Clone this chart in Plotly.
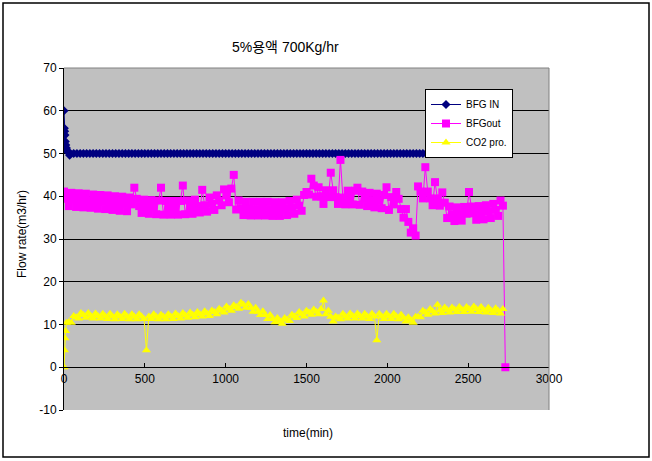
import plotly.graph_objects as go

# ---------------- data ----------------
x_ticks = [0, 500, 1000, 1500, 2000, 2500, 3000]
y_ticks = [-10, 0, 10, 20, 30, 40, 50, 60, 70]
grid_vals = [10, 20, 30, 40, 50, 60]

bfg_in_time = [0, 2, 4, 6, 8, 11, 15, 20, 28, 35] + list(range(40, 2741, 20))
bfg_in = [60.0, 55.9, 55.2, 54.3, 52.8, 52.0, 51.3, 50.6, 50.2, 49.6,
          50.0, 50.0, 50.0, 50.0, 50.0, 50.0, 50.0, 50.0, 50.0, 50.0,
          50.0, 50.0, 50.0, 50.0, 50.0, 50.0, 50.0, 50.0, 50.0, 50.0,
          50.0, 50.0, 50.0, 50.0, 50.0, 50.0, 50.0, 50.0, 50.0, 50.0,
          50.0, 50.0, 50.0, 50.0, 50.0, 50.0, 50.0, 50.0, 50.0, 50.0,
          50.0, 50.0, 50.0, 50.0, 50.0, 50.0, 50.0, 50.0, 50.0, 50.0,
          50.0, 50.0, 50.0, 50.0, 50.0, 50.0, 50.0, 50.0, 50.0, 50.0,
          50.0, 50.0, 50.0, 50.0, 50.0, 50.0, 50.0, 50.0, 50.0, 50.0,
          50.0, 50.0, 50.0, 50.0, 50.0, 50.0, 50.0, 50.0, 50.0, 50.0,
          50.0, 50.0, 50.0, 50.0, 50.0, 50.0, 50.0, 50.0, 50.0, 50.0,
          50.0, 50.0, 50.0, 50.0, 50.0, 50.0, 50.0, 50.0, 50.0, 50.0,
          50.0, 50.0, 50.0, 50.0, 50.0, 50.0, 50.0, 50.0, 50.0, 50.0,
          50.0, 50.0, 50.0, 50.0, 50.0, 50.0, 50.0, 50.0, 50.0, 50.0,
          50.0, 50.0, 50.0, 50.0, 50.0, 50.0, 50.0, 50.0, 50.0, 50.0,
          50.0, 50.0, 50.0, 50.0, 50.0, 50.0]

bfg_out_time = list(range(0, 2730, 15)) + [2730]
bfg_out = [41.1, 39.4, 37.7, 40.8, 39.2, 37.5, 40.7, 39.0, 37.4, 40.6,
           38.9, 37.3, 40.4, 38.8, 37.1, 40.3, 38.7, 37.0, 40.2, 38.5,
           36.8, 40.0, 38.3, 36.6, 39.9, 38.2, 36.5, 39.7, 38.1, 42.0,
           39.4, 37.7, 36.1, 39.2, 37.6, 35.9, 39.1, 37.4, 35.8, 39.0,
           42.0, 35.7, 38.9, 37.3, 35.7, 38.9, 37.3, 35.7, 38.9, 42.5,
           35.8, 39.0, 37.5, 35.9, 39.2, 37.7, 36.2, 41.5, 37.9, 36.4,
           39.7, 38.2, 36.8, 40.2, 39.0, 37.9, 41.6, 40.2, 38.6, 41.8,
           45.0, 36.9, 39.0, 37.2, 35.6, 38.7, 37.1, 35.5, 38.7, 37.0,
           35.5, 38.7, 37.1, 35.5, 38.7, 37.0, 35.4, 38.6, 37.0, 35.4,
           38.6, 37.1, 35.6, 38.9, 37.4, 35.9, 39.2, 37.8, 36.6, 40.3,
           41.0, 40.4, 44.1, 42.5, 39.9, 42.1, 40.0, 38.2, 41.4, 39.8,
           45.5, 41.4, 39.8, 38.2, 48.5, 39.7, 38.1, 41.3, 39.7, 38.1,
           41.3, 42.0, 38.0, 41.1, 39.4, 37.7, 40.8, 39.1, 37.4, 40.6,
           38.9, 37.2, 40.3, 42.1, 36.8, 39.8, 38.1, 41.0, 39.4, 37.0,
           35.0, 37.0, 34.0, 31.5, 32.5, 30.8, 42.3, 41.1, 39.5, 46.8,
           41.1, 39.5, 37.9, 43.3, 39.5, 37.8, 40.9, 38.5, 34.9, 37.6,
           35.8, 34.2, 37.4, 35.8, 34.3, 37.5, 35.9, 41.0, 37.6, 36.0,
           34.5, 37.7, 36.2, 34.6, 37.9, 36.4, 34.9, 38.2, 36.8, 35.4,
           39.0, 37.8,
           0.0]

co2_time = [0, 3, 6, 10] + list(range(15, 2730, 15))
co2 = [0.0, 4.0, 6.8, 8.5,
       10.4, 10.6, 10.4, 12.0, 11.7, 11.4, 12.7, 12.2, 11.6, 12.7,
       12.0, 11.4, 12.6, 12.0, 11.4, 12.5, 11.9, 11.3, 12.5, 11.9,
       11.2, 12.4, 11.9, 11.3, 12.5, 11.8, 11.2, 12.4, 11.8, 11.2,
       12.4, 11.9, 11.3, 4.0, 11.9, 11.3, 12.4, 11.8, 11.2, 12.3,
       11.8, 11.2, 12.4, 11.9, 11.3, 12.6, 12.0, 11.4, 12.7, 12.1,
       11.6, 12.8, 12.3, 11.7, 12.9, 12.4, 11.9, 13.1, 12.6, 12.0,
       13.3, 12.9, 12.4, 13.7, 13.2, 12.8, 14.2, 13.7, 13.2, 14.5,
       14.1, 13.7, 15.1, 14.6, 13.9, 14.8, 13.9, 13.0, 13.9, 13.0,
       12.2, 13.1, 12.2, 11.3, 12.2, 11.3, 10.5, 11.5, 10.8, 10.2,
       11.5, 11.1, 10.8, 12.3, 11.9, 11.5, 12.9, 12.4, 11.9, 13.2,
       12.8, 12.3, 13.5, 13.0, 12.4, 13.6, 15.6, 12.4, 13.2, 11.8,
       10.7, 11.9, 11.6, 11.2, 12.5, 11.9, 11.4, 12.6, 12.0, 11.4,
       12.6, 12.0, 11.4, 12.5, 11.9, 11.3, 12.5, 11.9, 6.3, 12.5,
       11.9, 11.3, 12.5, 11.9, 11.3, 12.5, 11.9, 11.2, 12.3, 11.6,
       10.7, 11.7, 11.0, 10.4, 11.8, 11.8, 11.7, 13.2, 12.8, 12.3,
       13.6, 13.1, 12.6, 14.6, 13.3, 12.7, 14.0, 13.4, 12.8, 14.0,
       13.5, 12.9, 14.1, 13.5, 12.9, 14.1, 13.6, 13.0, 14.2, 13.6,
       12.9, 14.1, 13.4, 12.8, 13.9, 13.3, 12.7, 13.8, 13.2, 12.6,
       13.6]

# ---------------- layout geometry ----------------
W, H = 652, 461
L, R, T, B = 64, 103, 68, 51
PW, PH = W - L - R, H - T - B

FONT = "Liberation Sans, Arial, Noto Sans CJK KR, sans-serif"


def px(xpix):
    return (xpix - L) / PW


def py(ypix):
    return (H - B - ypix) / PH


fig = go.Figure()
fig.add_trace(go.Scatter(
    x=bfg_in_time, y=bfg_in, mode="lines+markers", name="BFG IN",
    line=dict(color="#000080", width=1),
    marker=dict(symbol="diamond", size=7, color="#000080")))
fig.add_trace(go.Scatter(
    x=bfg_out_time, y=bfg_out, mode="lines+markers", name="BFGout",
    line=dict(color="#FF00FF", width=1),
    marker=dict(symbol="square", size=8, color="#FF00FF")))
fig.add_trace(go.Scatter(
    x=co2_time, y=co2, mode="lines+markers", name="CO2 pro.",
    line=dict(color="#FFFF00", width=1),
    marker=dict(symbol="triangle-up", size=8, color="#FFFF00")))

fig.update_layout(
    width=W, height=H,
    margin=dict(l=L, r=R, t=T, b=B, pad=0),
    paper_bgcolor="white", plot_bgcolor="#C0C0C0",
    font=dict(family=FONT, size=12, color="black"),
    showlegend=True,
    legend=dict(x=px(425), y=py(89), xanchor="left", yanchor="top",
                bgcolor="white", bordercolor="black", borderwidth=1,
                font=dict(family=FONT, size=10), tracegroupgap=0,
                itemwidth=30),
)

fig.update_xaxes(
    range=[0, 3000], tickvals=x_ticks, ticktext=[str(v) for v in x_ticks],
    anchor="free", position=10 / 80,
    showline=True, linecolor="black", linewidth=1,
    ticks="inside", ticklen=4, tickcolor="black",
    showgrid=False, zeroline=False, tickfont=dict(size=12))

fig.update_yaxes(
    range=[-10, 70], tickvals=y_ticks, ticktext=[str(v) for v in y_ticks],
    showgrid=False, zeroline=False,
    minor=dict(tickvals=grid_vals, showgrid=True, gridcolor="black",
               gridwidth=1, ticks=""),
    showline=True, linecolor="black", linewidth=1,
    ticks="outside", ticklen=4, tickcolor="black", tickfont=dict(size=12))

# plot area edge (top and right) and outer frame
fig.add_shape(type="path", xref="paper", yref="paper",
              path="M 0,1 L 1,1 L 1,0", line=dict(color="#808080", width=1))
fig.add_shape(type="rect", xref="paper", yref="paper",
              x0=px(3), x1=px(649), y0=py(457), y1=py(3),
              line=dict(color="black", width=1.5), layer="above")

fig.add_annotation(text="5%용액 700Kg/hr", xref="paper", yref="paper",
                   x=px(285), y=py(47), showarrow=False,
                   xanchor="center", yanchor="middle",
                   font=dict(family=FONT, size=14))
fig.add_annotation(text="time(min)", xref="paper", yref="paper",
                   x=px(308), y=py(433), showarrow=False,
                   xanchor="center", yanchor="middle",
                   font=dict(family=FONT, size=12))
fig.add_annotation(text="Flow rate(m3/hr)", xref="paper", yref="paper",
                   x=px(22), y=py(234), showarrow=False, textangle=-90,
                   xanchor="center", yanchor="middle",
                   font=dict(family=FONT, size=12))

fig.write_html(
    "out.html",
    config={"displayModeBar": False},
    post_script="document.body.style.margin='0';"
                "document.body.style.overflow='hidden';")
